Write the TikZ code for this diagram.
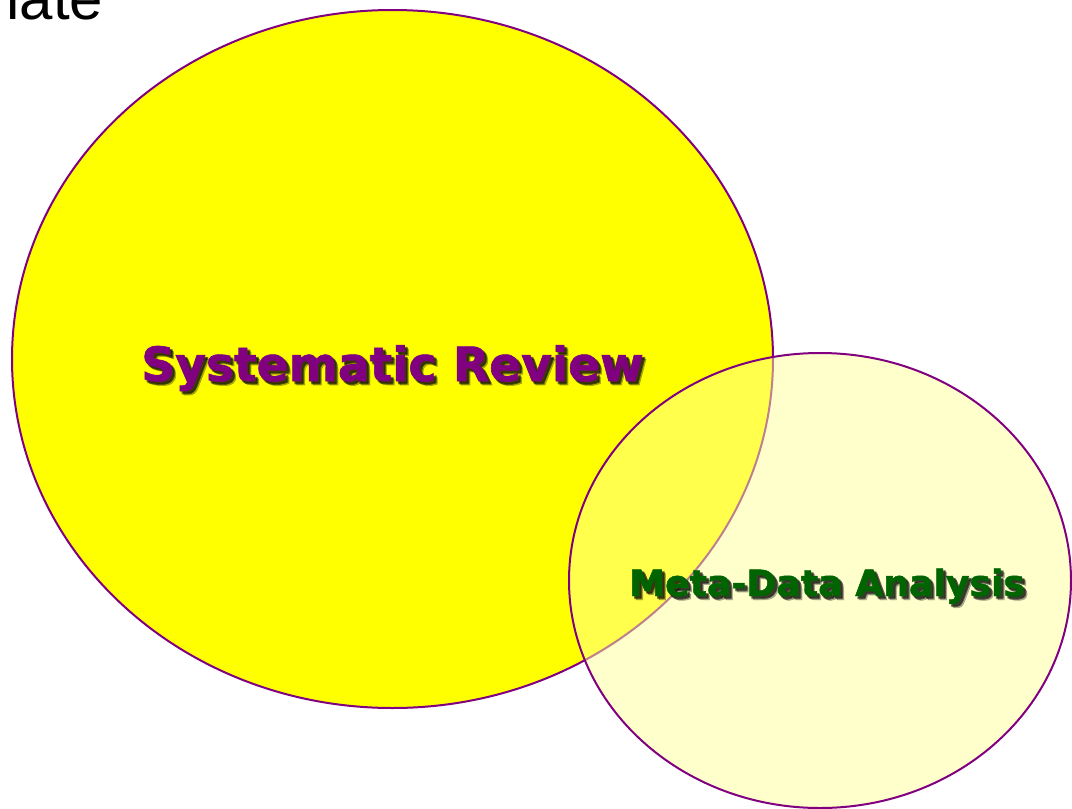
\documentclass[tikz,border=0pt]{standalone}
\usepackage{fontspec}
\setmainfont{DejaVu Sans}
\newfontfamily\headfont{Liberation Sans}
\newfontfamily\labelfont{DejaVu Sans Bold}[FakeBold=1.3]
\usetikzlibrary{shapes.geometric}
\definecolor{rvpurple}{RGB}{128,0,128}
\definecolor{mdgreen}{RGB}{0,100,0}
\definecolor{setyellow}{RGB}{255,255,0}
\definecolor{paleyellow}{RGB}{255,255,153}
\begin{document}
\begin{tikzpicture}[x=0.5pt,y=-0.5pt,
  blob/.style={ellipse, draw=rvpurple, line width=1pt, inner sep=0pt},
  srfont/.style={font=\labelfont\fontsize{23.6}{28}\selectfont},
  mdfont/.style={font=\labelfont\fontsize{18.1}{22}\selectfont},
  label/.style={anchor=base, inner sep=0pt},
  shadowtxt/.style={label, text=black, text opacity=0.25}
]
\useasboundingbox (0,0) rectangle (1072,809);

% the two overlapping sets
\node[blob, fill=setyellow, minimum width=380.5pt, minimum height=349pt] (sr) at (392.5,359) {};
\node[blob, fill=paleyellow, fill opacity=0.5, minimum width=251pt, minimum height=227.5pt] (md) at (820,580.5) {};

% heading fragment
\node[anchor=base west, inner sep=0pt, font=\headfont\fontsize{30}{36}\selectfont] (heading) at (6,19) {late};

% soft drop shadows behind the labels
\foreach \dx/\dy [count=\k] in {2/2,3/3,2/3,3/2,4/4} {
  \node[shadowtxt, srfont] (srshadow\k) at (392.5+\dx,381+\dy) {Systematic Review};
  \node[shadowtxt, mdfont] (mdshadow\k) at (827+\dx,596+\dy) {Meta-Data Analysis};
}

% labels
\node[label, srfont, text=rvpurple] (srlabel) at (392.5,381) {Systematic Review};
\node[label, mdfont, text=mdgreen] (mdlabel) at (827,596) {Meta-Data Analysis};
\end{tikzpicture}
\end{document}
